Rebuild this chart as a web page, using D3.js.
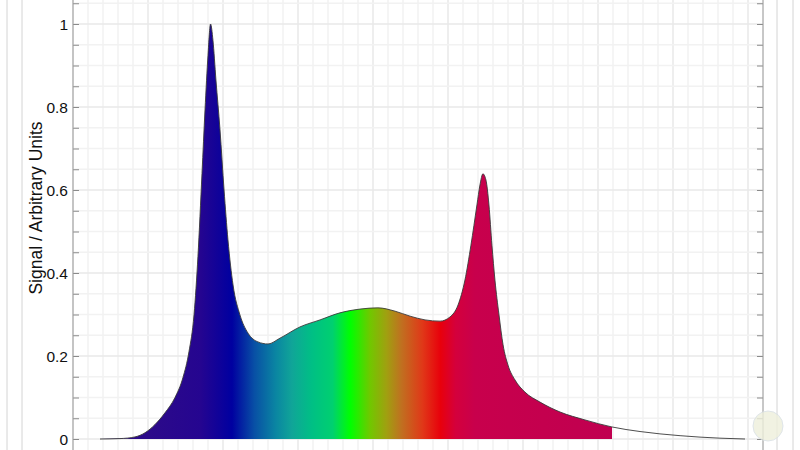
<!DOCTYPE html>
<html>
<head>
<meta charset="utf-8">
<script src="https://cdn.jsdelivr.net/npm/d3@7"></script>
<style>
    body { margin: 0; background: #fff; }
    text { font-family: "Liberation Sans", Arial, sans-serif; }
</style>
</head>
<body>
<svg id="chart" width="800" height="450"></svg>
<script>
// spectrum (wavelength in nm, signal in arbitrary units)
const wavelength = [368, 381.3, 391.3, 398, 404.7, 411.3, 418, 423.3, 427.3, 430.7, 433.3, 436, 438, 440, 441.7,
    443.3, 445.3, 448, 450.7, 453.3, 456.7, 461.3, 466.7, 473.3, 480, 488, 501.3, 514.7, 528, 541.3, 553.3,
    564.7, 574.7, 584.7, 594.7, 601.3, 606.7, 611.3, 615.3, 619.3, 621.3, 623.3, 625.3, 627.3, 629.3, 631.3,
    634, 636.7, 640, 644.7, 651.3, 661.3, 674.7, 691.3, 709.3, 728, 754.7, 781.3, 798];
const signal = [0, 0.001, 0.005, 0.015, 0.035, 0.063, 0.1, 0.148, 0.21, 0.3, 0.44, 0.64, 0.793, 0.925, 1.0,
    0.961, 0.865, 0.745, 0.6, 0.48, 0.371, 0.299, 0.255, 0.234, 0.229, 0.243, 0.27, 0.287, 0.304, 0.313, 0.316,
    0.308, 0.296, 0.287, 0.284, 0.294, 0.323, 0.383, 0.467, 0.564, 0.612, 0.639, 0.624, 0.564, 0.467, 0.383,
    0.299, 0.227, 0.178, 0.142, 0.113, 0.089, 0.065, 0.046, 0.029, 0.018, 0.008, 0.002, 0];

// colour of the fill along the spectrum
const stopWavelength = [401, 435, 456, 471, 485, 496, 509, 523, 535, 548, 559, 569, 583, 595, 605, 618, 709];
const stopColor = ["#2c0a8a", "#250590", "#0000a0", "#0850a5", "#0a85a2", "#10a598", "#00bf85", "#00d070",
    "#00ff00", "#70c800", "#a0a010", "#c07020", "#e03818", "#e8000c", "#d4003c", "#c8004c", "#c00050"];
const fillEnd = 709.3;

const yTicks = [0, 0.2, 0.4, 0.6, 0.8, 1];
const yLabel = "Signal / Arbitrary Units";

let svg = d3.select("#chart");
let x = d3.scaleLinear().domain([350, 810]).range([73, 763]);
let y = d3.scaleLinear().domain([0, 1]).range([439, 24]);

let data = wavelength.map((w, i) => ({w: w, v: signal[i]}));

// outer frame lines
[7, 22, 777, 793].forEach(px => {
    svg.append("line")
        .attr("x1", px).attr("x2", px)
        .attr("y1", 0).attr("y2", 450)
        .attr("stroke", "#d4d4d4")
        .attr("stroke-width", 1);
});

// grid
let grid = svg.append("g").attr("class", "grid");
let minorX = d3.range(350, 811, 10);
grid.selectAll("line.gx")
    .data(minorX)
    .enter().append("line")
    .attr("x1", d => x(d)).attr("x2", d => x(d))
    .attr("y1", 0).attr("y2", 450)
    .attr("stroke", d => d % 50 === 0 ? "#e8e8e8" : "#f2f2f2")
    .attr("stroke-width", 1.5);
let minorY = d3.range(-0.05, 1.1, 0.05);
grid.selectAll("line.gy")
    .data(minorY)
    .enter().append("line")
    .attr("x1", x(350)).attr("x2", x(810))
    .attr("y1", d => y(d)).attr("y2", d => y(d))
    .attr("stroke", d => Math.abs(d * 5 - Math.round(d * 5)) < 1e-6 ? "#e8e8e8" : "#f2f2f2")
    .attr("stroke-width", 1.5);

// gradient
let grad = svg.append("defs").append("linearGradient")
    .attr("id", "spectrum")
    .attr("gradientUnits", "userSpaceOnUse")
    .attr("x1", x(stopWavelength[0])).attr("x2", x(stopWavelength[stopWavelength.length - 1]))
    .attr("y1", 0).attr("y2", 0);
let span = stopWavelength[stopWavelength.length - 1] - stopWavelength[0];
grad.selectAll("stop")
    .data(stopWavelength)
    .enter().append("stop")
    .attr("offset", d => (d - stopWavelength[0]) / span)
    .attr("stop-color", (d, i) => stopColor[i]);

let area = d3.area()
    .curve(d3.curveMonotoneX)
    .x(d => x(d.w))
    .y0(y(0))
    .y1(d => y(d.v));
let line = d3.line()
    .curve(d3.curveMonotoneX)
    .x(d => x(d.w))
    .y(d => y(d.v));

svg.append("clipPath").attr("id", "fillclip")
    .append("rect")
    .attr("x", x(350)).attr("y", 0)
    .attr("width", x(fillEnd) - x(350))
    .attr("height", y(0));

svg.append("path")
    .datum(data)
    .attr("d", area)
    .attr("fill", "url(#spectrum)")
    .attr("clip-path", "url(#fillclip)");
svg.append("path")
    .datum(data)
    .attr("d", line)
    .attr("fill", "none")
    .attr("stroke", "#3a3a3a")
    .attr("stroke-width", 0.9);

// axes
let tickVals = d3.range(0, 1.06, 0.05);
let leftAxis = d3.axisRight(y)
    .tickValues(tickVals)
    .tickSize(6)
    .tickFormat("");
let gl = svg.append("g").attr("transform", "translate(" + x(350) + ",0)").call(leftAxis);
let rightAxis = d3.axisLeft(y)
    .tickValues(tickVals)
    .tickSize(6)
    .tickFormat("");
let gr = svg.append("g").attr("transform", "translate(" + x(810) + ",0)").call(rightAxis);
[gl, gr].forEach(g => {
    g.select(".domain").remove();
    g.selectAll(".tick line").attr("stroke", "#8a8a8a");
    g.append("line")
        .attr("x1", 0).attr("x2", 0)
        .attr("y1", 0).attr("y2", 450)
        .attr("stroke", "#9a9a9a");
});

svg.append("g").selectAll("text")
    .data(yTicks)
    .enter().append("text")
    .attr("x", x(350) - 5)
    .attr("y", d => y(d))
    .attr("dy", "0.36em")
    .attr("text-anchor", "end")
    .attr("font-size", 15.5)
    .attr("fill", "#111")
    .text(d => d3.format("~g")(d));

svg.append("text")
    .attr("transform", "translate(42,208) rotate(-90)")
    .attr("text-anchor", "middle")
    .attr("font-size", 17.5)
    .attr("fill", "#111")
    .text(yLabel);

// faint watermark
svg.append("circle")
    .attr("cx", 768).attr("cy", 426).attr("r", 15)
    .attr("fill", "#eef0dc")
    .attr("stroke", "#d8dfe4")
    .attr("opacity", 0.8);
</script>
</body>
</html>
